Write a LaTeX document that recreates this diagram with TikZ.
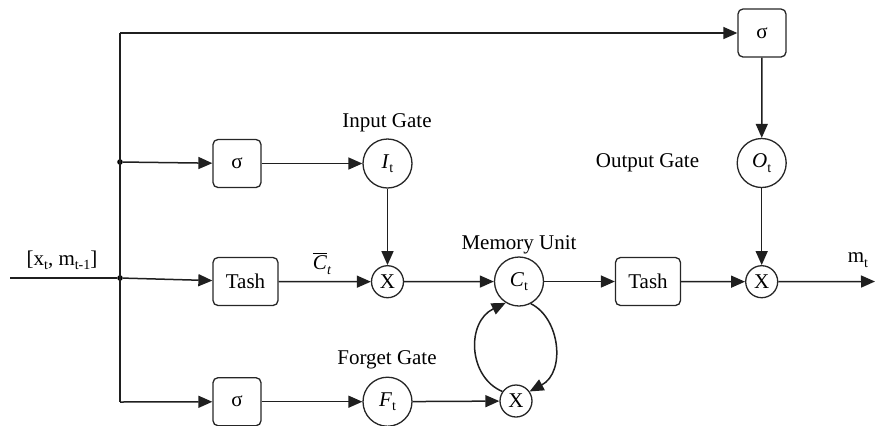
\documentclass[tikz,border=0pt]{standalone}
\usepackage{fontspec}
\setmainfont{Liberation Serif}
\usetikzlibrary{arrows.meta}
% small lowered subscript for the gate symbols
\newcommand\lsub[1]{\raisebox{-0.45ex}{\fontsize{7}{8}\selectfont #1}}
\tikzset{
  wire/.style={line width=0.75pt, draw=black!88},
  flow/.style={wire, -{Triangle[length=7pt,width=6pt]}},
  gatebox/.style={draw=black!85, line width=0.65pt, rounded corners=2.5pt,
    minimum width=24pt, minimum height=24pt, inner sep=0pt, font=\fontsize{10.5}{12}\selectfont},
  tashbox/.style={gatebox, minimum width=32.5pt},
  gatecirc/.style={draw=black!85, line width=0.65pt, circle, minimum size=24.5pt,
    inner sep=0pt, font=\fontsize{10.5}{12}\selectfont},
  mulcirc/.style={draw=black!85, line width=0.65pt, circle, minimum size=16pt,
    inner sep=0pt, font=\fontsize{10.5}{12}\selectfont},
  lbl/.style={font=\fontsize{10.5}{12}\selectfont, inner sep=0pt},
  junction/.style={circle, fill=black, inner sep=0pt, minimum size=2.8pt},
}
\begin{document}
\begin{tikzpicture}[x=0.5pt, y=-0.5pt]
\useasboundingbox (0,0) rectangle (875,425);

% trunk of the input
\coordinate (in)   at (10,278);
\coordinate (ctop) at (120,33);
\coordinate (cbot) at (120,402);
\node[junction] (j1) at (120,162) {};
\node[junction] (j2) at (120,278) {};
\coordinate (out)  at (875,281.5);

% gate blocks
\node[gatebox] (s1) at (237,163.5) {σ};
\node[gatebox] (s2) at (237,401.7) {σ};
\node[gatebox] (s3) at (762,33) {σ};
\node[tashbox] (t1) at (245.5,281.5) {Tash};
\node[tashbox] (t2) at (648,281.5) {Tash};

% gate activations and memory cell
\node[gatecirc] (I) at (387.5,163.5) {\textit{I}\lsub{t}};
\node[gatecirc] (F) at (387.5,401.7) {\textit{F}\lsub{t}};
\node[gatecirc] (O) at (761.7,163)   {\textit{O}\lsub{t}};
\node[gatecirc] (C) at (519,281.5)   {\textit{C}\lsub{t}};

% multipliers
\node[mulcirc] (x1) at (387.5,281.7) {X};
\node[mulcirc] (x2) at (516,401)     {X};
\node[mulcirc] (x3) at (761.7,281.7) {X};

% labels
\node[lbl] (lin)  at (62,260)    {[x\lsub{t}, m\lsub{t-1}]};
\node[lbl] (lcb)  at (322,263)   {$\overline{\mbox{\textit{C}}}$\lsub{\textit{t}}};
\node[lbl] (lig)  at (387,123)   {Input Gate};
\node[lbl] (lmu)  at (519,245)   {Memory Unit};
\node[lbl] (lfg)  at (387,360)   {Forget Gate};
\node[lbl] (log)  at (647.5,163) {Output Gate};
\node[lbl] (lm)   at (858,260)   {m\lsub{t}};

% connectors
\draw[wire] (in) -- (j2);
\draw[wire] (ctop) -- (cbot);
\draw[flow] (ctop) -- (s3);
\draw[flow] (cbot) -- (s2);
\draw[flow] (j1) -- (s1);
\draw[flow] (j2) -- (t1);

\draw[flow] (s1) -- (I);
\draw[flow] (I) -- (x1);
\draw[flow] (t1) -- (x1);
\draw[flow] (x1) -- (C);
\draw[flow] (C) -- (t2);
\draw[flow] (t2) -- (x3);
\draw[flow] (x3) -- (out);
\draw[flow] (s3) -- (O);
\draw[flow] (O) -- (x3);
\draw[flow] (s2) -- (F);
\draw[flow] (F) -- (x2);

% recurrence loop of the memory cell
\draw[flow] (C.-62) .. controls (560,318) and (566,372) .. (x2.35);
\draw[flow] (x2.145) .. controls (468,377) and (466,322) .. (C.-122);
\end{tikzpicture}
\end{document}
